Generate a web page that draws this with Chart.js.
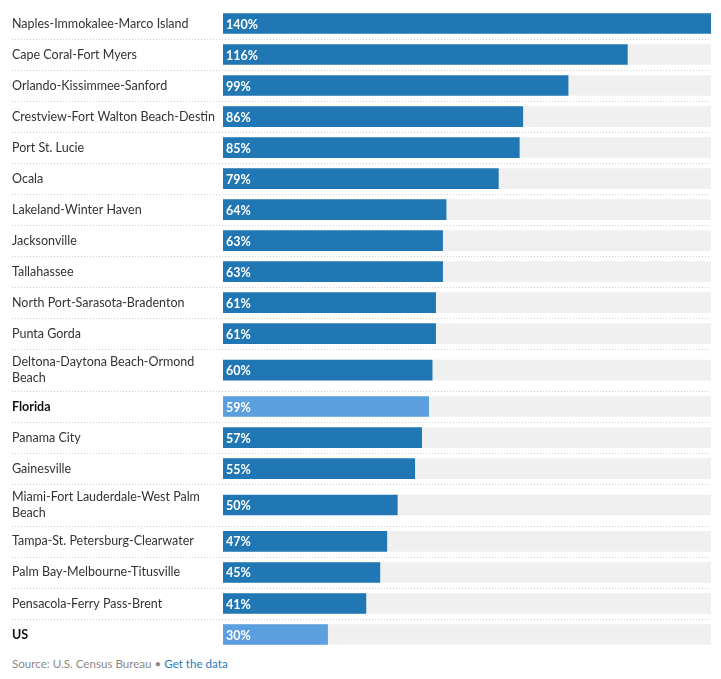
<!DOCTYPE html>
<html>
<head>
<meta charset="utf-8">
<script src="https://cdn.jsdelivr.net/npm/chart.js@4.4.1/dist/chart.umd.min.js"></script>
<style>
  html, body { margin: 0; padding: 0; background: #fff; }
  #wrap { position: relative; width: 721px; height: 650px; }
  #source { position: absolute; left: 12px; top: 657px; font: 11.6px Lato, sans-serif; color: #8a8a8a; }
  #source a { color: #2a7bbf; text-decoration: none; }
</style>
</head>
<body>
<div id="wrap"><canvas id="growthChart"></canvas></div>
<div id="source">Source: U.S. Census Bureau &bull; <a href="#">Get the data</a></div>
<script>
// metro areas (two-line labels are arrays)
const areas = [
    "Naples-Immokalee-Marco Island",
    "Cape Coral-Fort Myers",
    "Orlando-Kissimmee-Sanford",
    "Crestview-Fort Walton Beach-Destin",
    "Port St. Lucie",
    "Ocala",
    "Lakeland-Winter Haven",
    "Jacksonville",
    "Tallahassee",
    "North Port-Sarasota-Bradenton",
    "Punta Gorda",
    ["Deltona-Daytona Beach-Ormond", "Beach"],
    "Florida",
    "Panama City",
    "Gainesville",
    ["Miami-Fort Lauderdale-West Palm", "Beach"],
    "Tampa-St. Petersburg-Clearwater",
    "Palm Bay-Melbourne-Titusville",
    "Pensacola-Ferry Pass-Brent",
    "US"
];
const growth = [140, 116, 99, 86, 85, 79, 64, 63, 63, 61, 61, 60, 59, 57, 55, 50, 47, 45, 41, 30];
const summaryRows = ["Florida", "US"];
const maxValue = 140;

const DARK = '#2077b4';
const LIGHT = '#5b9fde';

// row heights: taller rows for wrapped labels
const rowHeights = areas.map(a => Array.isArray(a) ? 1.35 : 1);
const centers = [];
const bounds = [];
let acc = 0;
rowHeights.forEach(h => {
    centers.push(acc + h / 2);
    acc += h;
    bounds.push(acc);
});
const total = acc;

const isSummary = i => summaryRows.includes(areas[i]);

// separators, row labels and value labels
const rowDecor = {
    id: 'rowDecor',
    afterDatasetsDraw(chart) {
        const ctx = chart.ctx;
        const y = chart.scales.y;
        const area = chart.chartArea;
        ctx.save();
        ctx.strokeStyle = '#cfcfcf';
        ctx.lineWidth = 1;
        ctx.setLineDash([1, 2]);
        bounds.slice(0, -1).forEach(b => {
            const py = Math.round(y.getPixelForValue(b)) + 0.5;
            ctx.beginPath();
            ctx.moveTo(12, py);
            ctx.lineTo(area.right, py);
            ctx.stroke();
        });
        ctx.setLineDash([]);

        ctx.textBaseline = 'middle';
        ctx.textAlign = 'left';
        areas.forEach((label, i) => {
            const lines = Array.isArray(label) ? label : [label];
            const cy = y.getPixelForValue(centers[i]);
            ctx.fillStyle = isSummary(i) ? '#111' : '#333';
            ctx.font = (isSummary(i) ? 'bold ' : '') + '12.5px Lato, sans-serif';
            lines.forEach((line, k) => {
                ctx.fillText(line, 12, cy + (k - (lines.length - 1) / 2) * 16);
            });
        });

        ctx.fillStyle = '#fff';
        ctx.font = 'bold 12.5px Lato, sans-serif';
        chart.getDatasetMeta(0).data.forEach((bar, i) => {
            ctx.fillText(growth[i] + '%', bar.base + 3, bar.y + 1);
        });
        ctx.restore();
    }
};

new Chart(document.getElementById('growthChart'), {
    type: 'bar',
    data: {
        datasets: [
            {
                data: growth.map((v, i) => ({ x: v, y: centers[i] })),
                backgroundColor: growth.map((v, i) => isSummary(i) ? LIGHT : DARK),
                barThickness: 20,
                grouped: false
            },
            {
                data: growth.map((v, i) => ({ x: maxValue, y: centers[i] })),
                backgroundColor: '#f0f0f0',
                barThickness: 20,
                grouped: false
            }
        ]
    },
    options: {
        indexAxis: 'y',
        responsive: true,
        maintainAspectRatio: false,
        animation: false,
        layout: { padding: { left: 223, right: 10, top: 8, bottom: 0 } },
        plugins: { legend: { display: false }, tooltip: { enabled: false } },
        scales: {
            x: { min: 0, max: maxValue, display: false },
            y: { type: 'linear', min: 0, max: total, reverse: true, offset: false, display: false }
        }
    },
    plugins: [rowDecor]
});
</script>
</body>
</html>
